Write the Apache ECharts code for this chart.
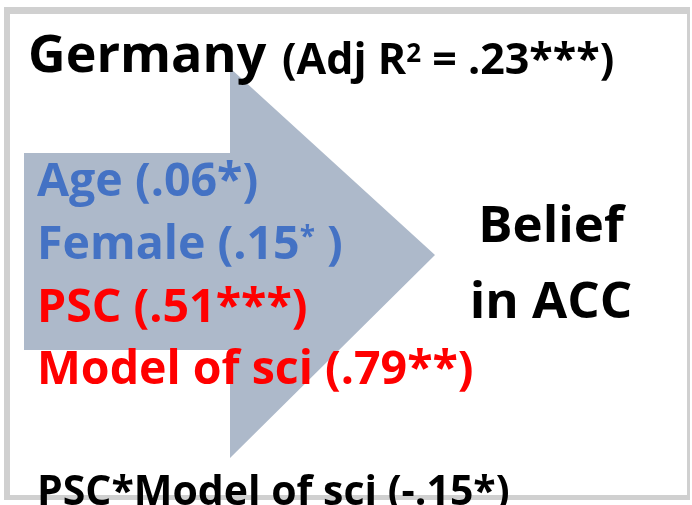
<!DOCTYPE html>
<html>
<head>
<meta charset="utf-8">
<script src="https://cdn.jsdelivr.net/npm/echarts@6/dist/echarts.min.js"></script>
<style>html,body{margin:0;padding:0;background:#fff}#c{width:692px;height:505px}</style>
</head>
<body>
<div id="c"></div>
<script>
// ---- data ----
const country = 'Germany';
const adjR2 = '.23';
const adjR2Sig = '***';
const predictors = ['Age', 'Female', 'PSC', 'Model of sci'];
const coefs = ['.06', '.15', '.51', '.79'];
const sigs = ['*', '*', '***', '**'];
const groups = ['control', 'control', 'key', 'key'];
const outcomeLines = ['Belief', 'in ACC'];
const interactionLabel = 'PSC*Model of sci';
const interactionCoef = '-.15';
const interactionSig = '*';

// ---- style ----
const FONT = '"Open Sans", Lato, sans-serif';
const groupColor = { control: '#4472c4', key: '#ff0000' };
const arrowColor = '#adb9ca';

const chart = echarts.init(document.getElementById('c'), null, { renderer: 'canvas' });

const elements = [];
// frame
elements.push({ type: 'rect', shape: { x: 4, y: 7, width: 686, height: 493 }, style: { fill: '#d0d0d0' }, z: 0 });
elements.push({ type: 'rect', shape: { x: 10, y: 14, width: 677, height: 481 }, style: { fill: '#ffffff' }, z: 1 });
// arrow
elements.push({
  type: 'polygon', z: 2,
  shape: { points: [[24, 153], [230, 153], [230, 68], [435, 255], [230, 458], [230, 350], [24, 350]] },
  style: { fill: arrowColor }
});
// title
elements.push({
  type: 'text', z: 5, x: 28, y: 57,
  style: { text: country, verticalAlign: 'middle', fontFamily: FONT, fontWeight: 'bold', fontSize: 52, fill: '#000' }
});
elements.push({
  type: 'text', z: 5, x: 282, y: 62,
  style: {
    text: '{b|(Adj R}{s|2}{b| = ' + adjR2 + adjR2Sig + ')}',
    verticalAlign: 'middle',
    rich: {
      b: { fontFamily: FONT, fontWeight: 'bold', fontSize: 43, fill: '#000' },
      s: { fontFamily: FONT, fontWeight: 'bold', fontSize: 26, fill: '#000', padding: [0, 0, 14, 0] }
    }
  }
});
// predictors
const lineY = [183, 246, 309, 371];
predictors.forEach((p, i) => {
  const col = groupColor[groups[i]];
  let txt;
  if (p === 'Female') {
    txt = '{m|' + p + ' (' + coefs[i] + '}{s|' + sigs[i] + '}{m| )}';
  } else {
    txt = '{m|' + p + ' (' + coefs[i] + sigs[i] + ')}';
  }
  elements.push({
    type: 'text', z: 5, x: 37, y: lineY[i],
    style: {
      text: txt, verticalAlign: 'middle',
      rich: {
        m: { fontFamily: FONT, fontWeight: 'bold', fontSize: 46.5, fill: col },
        s: { fontFamily: FONT, fontWeight: 'bold', fontSize: 28, fill: col, padding: [0, 0, 16, 0] }
      }
    }
  });
});
// outcome
outcomeLines.forEach((t, i) => {
  elements.push({
    type: 'text', z: 5, x: 551, y: 227 + i * 76,
    style: { text: t, align: 'center', verticalAlign: 'middle', fontFamily: FONT, fontWeight: 'bold', fontSize: 51, fill: '#000' }
  });
});
// interaction
elements.push({
  type: 'text', z: 5, x: 37, y: 493,
  style: { text: interactionLabel + ' (' + interactionCoef + interactionSig + ')', verticalAlign: 'middle', fontFamily: FONT, fontWeight: 'bold', fontSize: 41, fill: '#000' }
});

chart.setOption({ animation: false, graphic: { elements: elements } });
</script>
</body>
</html>
